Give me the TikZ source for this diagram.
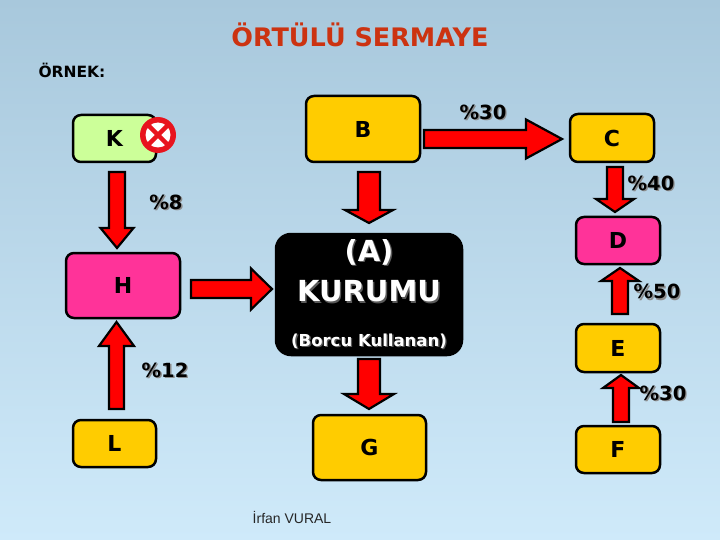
\documentclass[tikz,border=0pt]{standalone}
\usepackage{fontspec}
\setmainfont{DejaVu Sans}
\newfontfamily\authorfont{Liberation Sans}
\usetikzlibrary{calc}
\definecolor{boxyellow}{RGB}{255,204,0}
\definecolor{boxpink}{RGB}{255,51,153}
\definecolor{boxgreen}{RGB}{204,255,153}
\definecolor{arrowred}{RGB}{255,0,0}
\definecolor{xred}{RGB}{232,20,30}
\definecolor{titlered}{RGB}{204,51,17}
\definecolor{bgtop}{RGB}{168,200,220}
\definecolor{bgbot}{RGB}{207,234,250}
\definecolor{shadowgray}{RGB}{140,140,140}
\definecolor{darkshadow}{RGB}{90,90,90}
\newcommand\shadowed[2]{\leavevmode\rlap{\kern1.4pt\raisebox{-1.4pt}{\textcolor{#1}{#2}}}#2}
\newcommand\boxfont{\fontsize{22}{26}\selectfont\bfseries}
\newcommand\pctfont{\fontsize{19.5}{22}\selectfont\bfseries}
\newcommand\bigAfont{\fontsize{29}{32}\selectfont\bfseries}
\newcommand\borcufont{\fontsize{16.5}{19}\selectfont\bfseries}
\newcommand\titlefont{\fontsize{25.5}{28}\selectfont\bfseries}
\newcommand\ornekfont{\fontsize{15.5}{18}\selectfont\bfseries}
% block arrow: start, end, half shaft, half head, head length
\newcommand\blockarrow[5]{%
  \coordinate (ba-s) at #1;
  \coordinate (ba-e) at #2;
  \coordinate (ba-h) at ($(ba-e)!#5!(ba-s)$);
  \draw[barrow] ($(ba-s)!#3!90:(ba-e)$) -- ($(ba-h)!#3!90:(ba-e)$) -- ($(ba-h)!#4!90:(ba-e)$) -- (ba-e)
    -- ($(ba-h)!#4!-90:(ba-e)$) -- ($(ba-h)!#3!-90:(ba-e)$) -- ($(ba-s)!#3!-90:(ba-e)$) -- cycle;}
\begin{document}
\begin{tikzpicture}[x=1pt,y=-1pt,
  box/.style={draw=black, line width=2.5pt, rounded corners=8pt, outer sep=0pt, inner sep=0pt, font=\boxfont},
  barrow/.style={draw=black, fill=arrowred, line width=2.2pt, line join=miter},
  pct/.style={font=\pctfont, inner sep=0pt},
  atext/.style={text=white, inner sep=0pt},
]
\useasboundingbox (0,0) rectangle (720,540);
\shade[top color=bgtop, bottom color=bgbot] (0,0) rectangle (720,540);

% title
\node[font=\titlefont, text=titlered, inner sep=0pt] (title) at (360,35) {ÖRTÜLÜ SERMAYE};
\node[font=\ornekfont, inner sep=0pt] (ornek) at (72,70.5) {ÖRNEK:};

% boxes
\node[box, fill=boxgreen, minimum width=83pt, minimum height=47pt] (K) at (114.5,138.5) {K};
\node[box, fill=boxyellow, minimum width=114pt, minimum height=66pt] (B) at (363,129) {B};
\node[box, fill=boxyellow, minimum width=84pt, minimum height=48pt] (C) at (612,138) {C};
\node[box, fill=boxpink, minimum width=84pt, minimum height=47pt] (D) at (618,240.5) {D};
\node[box, fill=boxyellow, minimum width=84pt, minimum height=48pt] (E) at (618,348) {E};
\node[box, fill=boxyellow, minimum width=84pt, minimum height=47pt] (F) at (618,449.5) {F};
\node[box, fill=boxpink, minimum width=114pt, minimum height=65pt] (H) at (123,285.5) {H};
\node[box, fill=black, rounded corners=15pt, minimum width=186pt, minimum height=121pt] (A) at (369,294.5) {};
\node[box, fill=boxyellow, minimum width=83pt, minimum height=47pt] (L) at (114.5,443.5) {L};
\node[box, fill=boxyellow, minimum width=113pt, minimum height=65pt] (G) at (369.5,447.5) {G};

% A texts
\node[atext, font=\bigAfont] (Aa) at ($(A.center)+(0,-41.5)$) {\shadowed{darkshadow}{(A)}};
\node[atext, font=\bigAfont] (Ab) at ($(A.center)+(0,-2.5)$) {\shadowed{darkshadow}{KURUMU}};
\node[atext, font=\borcufont] (Ac) at ($(A.center)+(0,47.5)$) {\shadowed{darkshadow}{(Borcu Kullanan)}};

% cancel mark on K
\node[circle, fill=xred, minimum size=36pt, inner sep=0pt] (kx) at ($(K.east)+(2,-3.5)$) {};
\fill[white] (kx.center) circle (12.5pt);
\draw[xred, line width=4.5pt] ($(kx.center)+(-11,-11)$) -- ($(kx.center)+(11,11)$);
\draw[xred, line width=4.5pt] ($(kx.center)+(-11,11)$) -- ($(kx.center)+(11,-11)$);

% arrows
\blockarrow{($(B.east)+(4,10)$)}{($(C.west)+(-8,1)$)}{9pt}{19.5pt}{36pt}
\blockarrow{($(C.south)+(3,5)$)}{($(D.north)+(-3,-5)$)}{8pt}{19pt}{13pt}
\blockarrow{($(E.north)+(2,-10)$)}{($(D.south)+(2,4)$)}{8pt}{19pt}{13pt}
\blockarrow{($(F.north)+(3,-4)$)}{($(E.south)+(3,3)$)}{8pt}{18pt}{13pt}
\blockarrow{($(B.south)+(6,10)$)}{($(A.north)+(0,-11)$)}{11pt}{24pt}{13pt}
\blockarrow{($(A.south)+(0,4)$)}{($(G.north)+(-0.5,-6)$)}{11pt}{25pt}{15pt}
\blockarrow{($(H.east)+(11,3.5)$)}{($(A.west)+(-4,-5.5)$)}{9pt}{20.5pt}{21pt}
\blockarrow{($(K.south)+(2.5,10)$)}{($(H.north)+(-6,-5)$)}{8pt}{16.5pt}{20pt}
\blockarrow{($(L.north)+(2,-11)$)}{($(H.south)+(-6.5,4)$)}{7.5pt}{17.5pt}{24pt}

% percentage labels
\node[pct] (p1) at (483,113) {\shadowed{shadowgray}{\%30}};
\node[pct] (p2) at (651,184) {\shadowed{shadowgray}{\%40}};
\node[pct] (p3) at (166,203) {\shadowed{shadowgray}{\%8}};
\node[pct] (p4) at (657,292.5) {\shadowed{shadowgray}{\%50}};
\node[pct] (p5) at (165,371) {\shadowed{shadowgray}{\%12}};
\node[pct] (p6) at (663,394) {\shadowed{shadowgray}{\%30}};

% author
\node[font=\authorfont\fontsize{14}{16}\selectfont, text=black!85, inner sep=0pt] (author) at (292,517) {İrfan VURAL};
\end{tikzpicture}
\end{document}
